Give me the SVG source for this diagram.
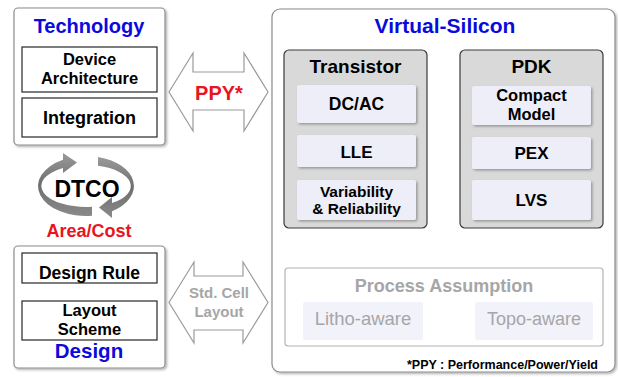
<svg xmlns="http://www.w3.org/2000/svg" width="618" height="377" viewBox="0 0 618 377">
<style>
text{font-family:"Liberation Sans",Arial,sans-serif;text-anchor:middle;}
.b{font-weight:bold;}
.blue{fill:#0a0adc;font-weight:bold;}
.red{fill:#e8141e;font-weight:bold;}
.panel{fill:#fff;stroke:#8c8c8c;stroke-width:1.2;}
.inner{fill:#fff;stroke:#262626;stroke-width:1.2;}
.grp{fill:#d9d9d9;stroke:#3a3a3a;stroke-width:1.2;}
.sub{fill:#eeeef9;}
.dbl{fill:#fff;stroke:#9a9a9a;stroke-width:1.2;}
.ga{fill:#7f7f7f;}
.light{fill:#a6a6a6;}
</style>
<defs>
<filter id="sh" x="-10%" y="-10%" width="130%" height="130%">
<feDropShadow dx="1.5" dy="1.5" stdDeviation="1.2" flood-color="#000" flood-opacity="0.3"/>
</filter>
<linearGradient id="ring" x1="0" y1="0" x2="0" y2="1">
<stop offset="0" stop-color="#9a9a9a"/>
<stop offset="0.5" stop-color="#6e6e6e"/>
<stop offset="1" stop-color="#8a8a8a"/>
</linearGradient>
</defs>

<g id="technology">
<rect class="panel" x="14" y="8" width="151" height="137" rx="4" filter="url(#sh)"/>
<text class="blue" x="89" y="33" font-size="20">Technology</text>
</g>
<g id="device-architecture">
<rect class="inner" x="22" y="47" width="135" height="45"/>
<text class="b" x="89.5" y="65" font-size="16.5">Device</text>
<text class="b" x="89.5" y="84" font-size="16.5">Architecture</text>
</g>
<g id="integration">
<rect class="inner" x="22" y="98" width="135" height="39"/>
<text class="b" x="89.5" y="124" font-size="18">Integration</text>
</g>

<g id="dtco">
<path fill="url(#ring)" d="M92,215.8 A48,30 0 0 1 63,159.7 L63,153 L77,162.5 L63,173 L63,168 A45,21 0 0 0 92,206.8 Z"/>
<path fill="url(#ring)" d="M98,157 A48,30 0 0 1 112,211.2 L112,218 L99,207.5 L112,197 L112,203.1 A45,21 0 0 0 98,165.8 Z"/>
<text class="b" x="87" y="197" font-size="23">DTCO</text>
<text class="red" x="89" y="237" font-size="18">Area/Cost</text>
</g>

<g id="design">
<rect class="panel" x="14" y="246" width="151" height="122" rx="4" filter="url(#sh)"/>
<text class="blue" x="89" y="358" font-size="20.5">Design</text>
</g>
<g id="design-rule">
<rect class="inner" x="22" y="253" width="135" height="30"/>
<text class="b" x="89.5" y="279" font-size="17.5">Design Rule</text>
</g>
<g id="layout-scheme">
<rect class="inner" x="22" y="301" width="135" height="39"/>
<text class="b" x="89.5" y="316" font-size="16.5">Layout</text>
<text class="b" x="89.5" y="335" font-size="16.5">Scheme</text>
</g>

<g id="connectors">
<polygon class="dbl" points="169,92 193,53 193,72 244,72 244,53 268,92 244,131 244,110 193,110 193,131"/>
<polygon class="dbl" points="169,302.5 194,262 194,276 243,276 243,262 268,302.5 243,343 243,330 194,330 194,343"/>
<polygon class="ga" points="433,146.5 445,146.5 445,140 456,151.5 445,163 445,156.5 433,156.5"/>
<polygon class="ga" points="353,234 364,246 359,246 359,257 347,257 347,246 342,246"/>
<polygon class="ga" points="532,234 543,246 538,246 538,257 526,257 526,246 521,246"/>
<polygon class="ga" points="440,316 451,316 451,311 463,320.5 451,330 451,325 440,325"/>
</g>
<g id="ppy-label">
<text class="red" x="219" y="100" font-size="20">PPY*</text>
</g>
<g id="std-cell-label">
<text class="b light" x="219" y="298" font-size="15">Std. Cell</text>
<text class="b light" x="219" y="317" font-size="15">Layout</text>
</g>

<g id="virtual-silicon">
<rect class="panel" x="272" y="9" width="343" height="363" rx="8" filter="url(#sh)"/>
<text class="blue" x="445" y="33" font-size="21">Virtual-Silicon</text>
<text class="b" x="598" y="369" font-size="12.5" style="text-anchor:end">*PPY : Performance/Power/Yield</text>
</g>

<g id="transistor">
<rect class="grp" x="284" y="50" width="143" height="178" rx="5"/>
<text class="b" x="355.5" y="73" font-size="19">Transistor</text>
</g>
<g id="dc-ac">
<rect class="sub" x="297" y="85" width="119" height="38" rx="2" filter="url(#sh)"/>
<text class="b" x="356.5" y="110" font-size="17.5">DC/AC</text>
</g>
<g id="lle">
<rect class="sub" x="297" y="135" width="119" height="32" rx="2" filter="url(#sh)"/>
<text class="b" x="356.5" y="158" font-size="17">LLE</text>
</g>
<g id="variability">
<rect class="sub" x="297" y="180" width="119" height="40" rx="2" filter="url(#sh)"/>
<text class="b" x="356.5" y="197" font-size="15.5">Variability</text>
<text class="b" x="356.5" y="214" font-size="15.5">&amp; Reliability</text>
</g>

<g id="pdk">
<rect class="grp" x="460" y="50" width="143" height="178" rx="5"/>
<text class="b" x="531.5" y="73" font-size="19">PDK</text>
</g>
<g id="compact-model">
<rect class="sub" x="472" y="86" width="119" height="39" rx="2" filter="url(#sh)"/>
<text class="b" x="531.5" y="101" font-size="16.5">Compact</text>
<text class="b" x="531.5" y="120" font-size="16.5">Model</text>
</g>
<g id="pex">
<rect class="sub" x="472" y="137" width="119" height="32" rx="2" filter="url(#sh)"/>
<text class="b" x="531.5" y="159" font-size="17">PEX</text>
</g>
<g id="lvs">
<rect class="sub" x="472" y="180" width="119" height="40" rx="2" filter="url(#sh)"/>
<text class="b" x="531.5" y="206" font-size="17">LVS</text>
</g>

<g id="process-assumption">
<rect x="285" y="268" width="318" height="78" rx="3" fill="#fff" stroke="#b4b4b4" stroke-width="1.2"/>
<text class="b light" x="444" y="292" font-size="18">Process Assumption</text>
</g>
<g id="litho-aware">
<rect x="303" y="302" width="120" height="38" rx="2" fill="#f2f2fb"/>
<text class="light" x="363" y="325" font-size="18.5">Litho-aware</text>
</g>
<g id="topo-aware">
<rect x="475" y="302" width="118" height="38" rx="2" fill="#f2f2fb"/>
<text class="light" x="534" y="325" font-size="18">Topo-aware</text>
</g>
</svg>
